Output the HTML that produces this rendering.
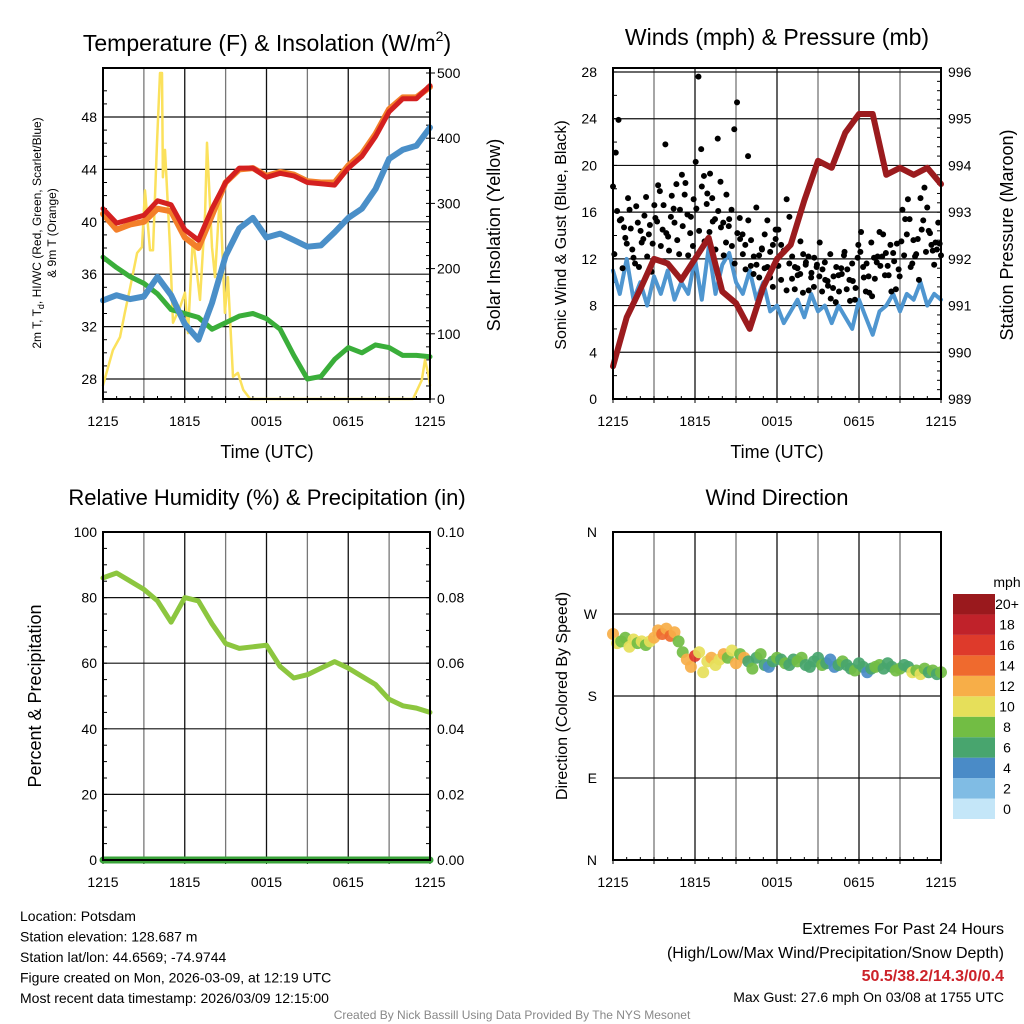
<!DOCTYPE html>
<html><head><meta charset="utf-8">
<style>
html,body{margin:0;padding:0;background:#fff;}
svg{display:block;font-family:"Liberation Sans",Arial,sans-serif;}
</style></head>
<body>
<svg id="c" width="1024" height="1024" viewBox="0 0 1024 1024" xmlns="http://www.w3.org/2000/svg">
<g id="g"></g>
</svg>
<script>
const hours=[0,1,2,3,4,5,6,7,8,9,10,11,12,13,14,15,16,17,18,19,20,21,22,23,24];
const xTickLabels=["1215","1815","0015","0615","1215"];
const tempRed=[41.0,39.9,40.2,40.5,41.6,41.3,39.4,38.6,41.0,43.0,44.1,44.1,43.4,43.7,43.5,43.0,42.9,42.8,44.1,45.0,46.5,48.4,49.4,49.4,50.4];
const tempOrange=[40.6,39.4,39.8,40.0,41.0,40.8,38.8,38.0,40.5,43.0,44.0,44.1,43.5,43.8,43.6,43.1,43.0,43.0,44.3,45.2,46.7,48.6,49.5,49.5,50.3];
const tempBlue=[34.0,34.4,34.1,34.3,35.8,34.4,32.2,31.0,33.8,37.4,39.5,40.3,38.8,39.1,38.6,38.1,38.2,39.2,40.3,41.0,42.5,44.8,45.5,45.8,47.2];
const tempGreen=[37.3,36.5,35.8,35.3,34.5,33.3,33.0,32.7,31.8,32.3,32.8,33.0,32.6,31.8,29.8,28.0,28.2,29.5,30.4,30.0,30.6,30.4,29.8,29.8,29.7];
const solarTimes=[0,0.73,1.25,1.6,2.0,2.5,2.86,3.08,3.45,3.67,3.96,4.18,4.33,4.4,4.55,4.92,5.14,5.65,6.02,6.24,6.6,7.12,7.49,7.63,8.0,8.22,8.59,8.95,9.17,9.54,9.9,10.3,10.8,22.75,23.4,23.63,23.85,24];
const solarVals=[21,75,95,132,172,224,233,320,228,228,393,500,500,340,382,233,117,141,163,101,248,152,285,393,233,187,316,132,187,34,40,14,0,0,29,60,40,21];
const tempTicks=[28,32,36,40,44,48];
const solarTicks=[0,100,200,300,400,500];
const pressure=[989.7,990.75,991.35,992.0,991.9,991.55,992.0,992.45,991.3,991.05,990.5,991.4,992.0,992.3,993.25,994.1,993.95,994.7,995.1,995.1,993.8,993.95,993.8,993.95,993.6];
const sonic=[11,9,12,8.5,10,8,10.5,9,11,8.5,10,9,12,8.5,13,9,11.5,12.5,10,9,11,8.5,10,7.5,8,6.5,7.5,8.5,7,9,7.5,8,6.5,8,7,6,8.5,7,5.5,7.5,8,9,7.5,9,8.5,10,8,9,8.5];
const gustsA=[18.2,21.1,23.9,15.4,14.7,13.3,16.2,12.8,11.6,15.1,14.4,13.7,17.3,14.1,10.9,16.6,15.2,17.8,14.5,21.8,13.9,15.6,16.3,18.4,12.4,19.2,17.5,15.8,14.2,13.1,20.3,27.6,21.4,19.1,16.7,14.3,17.2,15.4,22.3,18.6,15.1,13.4,14.8,16.2,23.1,25.4,15.5,14.1,13.2,20.8,11.4,10.7,16.4,12.3,12.9,11.2,15.3,10.4,9.6,13.7,14.5,13.2,12.6,17.1,15.6,12.2,11.3,10.6,13.5,12.4,11.7,9.3,10.8,12.1,11.5,13.4,11.1,10.2,9.7,8.6,10.5,11.3,9.2,10.7,12.6,11.1,8.4,10.1,9.5,13.2,14.3,10.4,11.6,9.1,8.8,10.3,12.2,11.4,14.1,12.5,10.6,9.2,11.8,13.3,10.5,16.2,15.4,17.1,11.3,13.6,12.4,10.2,14.5,18.1,16.4,14.2,12.7,13.4,15.1,12.3];
const gustsB=[12.4,16.1,15.3,11.2,13.8,17.2,14.6,12.1,16.5,11.3,13.4,15.7,12.2,14.9,13.3,15.5,18.3,13.1,16.6,14.2,12.7,17.4,15.1,13.6,16.2,14.8,18.5,12.3,15.6,17.1,16.3,14.4,18.2,13.5,17.6,19.3,15.2,12.8,16.1,14.7,12.3,17.5,15.4,13.1,11.6,14.2,13.7,12.4,11.1,15.3,13.6,12.2,11.5,10.4,12.8,14.1,11.3,12.6,13.2,14.5,11.4,10.2,12.7,9.3,11.6,10.3,9.4,11.2,10.7,9.1,11.5,12.2,10.4,9.6,11.3,10.5,9.2,11.7,10.1,12.4,9.5,8.3,10.6,11.2,12.3,9.4,10.2,11.6,8.5,12.1,12.6,11.3,9.2,10.5,13.4,12.1,11.7,14.3,12.2,10.6,11.4,13.2,12.5,9.4,11.1,13.5,12.3,14.1,15.4,11.6,12.2,13.7,17.2,15.3,12.6,14.4,13.2,11.5,12.8,13.3];
const windTicks=[0,4,8,12,16,20,24,28];
const pressTicks=[989,990,991,992,993,994,995,996];
const rh=[86,87.5,85,82.5,79,72.5,80,79,72,66,64.5,65,65.5,59,55.5,56.5,58.5,60.5,58.5,56,53.5,49,47,46.3,45];
const precip=[0,0,0,0,0,0,0,0,0,0,0,0,0,0,0,0,0,0,0,0,0,0,0,0,0];
const rhTicks=[0,20,40,60,80,100];
const precipTicks=["0.00","0.02","0.04","0.06","0.08","0.10"];
const dirVals=[248,238,240,244,234,242,238,240,236,240,244,252,248,254,246,250,240,228,220,212,224,228,206,218,222,214,220,226,222,230,216,226,222,218,210,222,226,214,212,218,222,220,216,214,220,218,222,214,212,218,222,214,216,220,212,214,218,214,210,208,216,212,206,210,212,214,210,216,212,208,210,214,212,206,208,204,210,206,208,204,206];
const dirSpeeds=[12,10,9,8,10,11,9,10,9,11,12,13,15,12,14,12,8,9,12,13,16,10,11,10,12,11,10,12,9,11,12,8,13,7,9,6,8,7,5,7,8,7,8,6,7,8,9,7,6,6,7,8,7,5,4,7,8,6,7,8,7,6,4,7,8,8,7,6,7,8,9,7,6,10,9,11,8,7,9,7,8];
const dirTicks=["N","E","S","W","N"];
const cbLabels=["0","2","4","6","8","10","12","14","16","18","20+"];
const cbColors=["#c4e6f8","#80bce4","#4a8bc7","#48a56e","#72bd44","#e6df5a","#f7ae48","#ef6a2e","#de3a2b","#c0222a","#9a191d"];

const NS="http://www.w3.org/2000/svg";
const G=document.getElementById('g');
function mk(tag,attrs,parent){const e=document.createElementNS(NS,tag);for(const k in attrs)e.setAttribute(k,attrs[k]);(parent||G).appendChild(e);return e;}
function txt(s,x,y,size,anchor,extra){const e=mk('text',Object.assign({x:x,y:y,'font-size':size,'text-anchor':anchor||'middle',fill:'#000'},extra||{}));e.textContent=s;return e;}
function lin(d0,d1,r0,r1){return v=>r0+(v-d0)/(d1-d0)*(r1-r0);}

function frame(x0,x1,y0,y1,name){
  const g=mk('g',{});
  
  
  const sx=lin(0,24,x0,x1);
  for(let h=0;h<=24;h+=3){
    const l=mk('line',{x1:sx(h),x2:sx(h),y1:y0,y2:y1,stroke:h%6==0?'#111':'#777','stroke-width':1.3},g);
    
    
    mk('line',{x1:sx(h),x2:sx(h),y1:y1,y2:y1+4,stroke:'#000'},g);
  }
  for(let h=1;h<24;h++){mk('line',{x1:sx(h),x2:sx(h),y1:y1,y2:y1-3,stroke:'#000'},g);}
  xTickLabels.forEach((s,i)=>{const t=txt(s,sx(i*6),y1+27,14);
    
    });
  return sx;
}
function border(x0,x1,y0,y1){const r=mk('rect',{x:x0,y:y0,width:x1-x0,height:y1-y0,fill:'none',stroke:'#000','stroke-width':2});
  
  }
function hgrid(y,x0,x1){const l=mk('line',{x1:x0,x2:x1,y1:y,y2:y,stroke:'#111','stroke-width':1.2});
  
  }
function path(xs,ys,color,w,name){let d='';for(let i=0;i<xs.length;i++)d+=(i?'L':'M')+xs[i].toFixed(1)+','+ys[i].toFixed(1);
  const p=mk('path',{d:d,fill:'none',stroke:color,'stroke-width':w,'stroke-linejoin':'round','stroke-linecap':'round'});
  
  
  return p;}

/* ---------- Panel 1 ---------- */
(function(){
  const x0=103,x1=430,y0=68,y1=399;
  const sx=frame(x0,x1,y0,y1,'temperature-panel');
  const ty=lin(28,48,379,117), sy=lin(0,500,399,73);
  tempTicks.forEach(v=>{hgrid(ty(v),x0,x1);const t=txt(String(v),97,ty(v)+5,14,'end');
    
    });
  for(let v=27;v<=50;v++)mk('line',{x1:x0,x2:x0+(v%4==0?0:4),y1:ty(v),y2:ty(v),stroke:'#000'});
  solarTicks.forEach(v=>{const t=txt(String(v),437,sy(v)+5,14,'start');
    
    
    mk('line',{x1:x1,x2:x1+5,y1:sy(v),y2:sy(v),stroke:'#000'});});
  for(let v=0;v<=500;v+=20)mk('line',{x1:x1,x2:x1-4,y1:sy(v),y2:sy(v),stroke:'#000'});
  path(solarTimes.map(sx),solarVals.map(sy),'#fbe15c',2.5,'solar-insolation-line');
  path(hours.map(sx),tempGreen.map(ty),'#3aae3a',5,'dewpoint-line');
  path(hours.map(sx),tempBlue.map(ty),'#4a8fc8',6,'heat-index-windchill-line');
  path(hours.map(sx),tempOrange.map(ty),'#f37f2a',6,'temp-9m-line');
  path(hours.map(sx),tempRed.map(ty),'#d42020',5,'temp-2m-line');
  border(x0,x1,y0,y1);
  let t=mk('text',{x:267,y:51,'font-size':23,'text-anchor':'middle'});
  t.innerHTML='Temperature (F) &amp; Insolation (W/m<tspan font-size="14" dy="-10">2</tspan><tspan dy="10">)</tspan>';
  
  
  t=txt('Time (UTC)',267,458,18);
  t=mk('text',{x:0,y:0,'font-size':12,'text-anchor':'middle',transform:'translate(41,233) rotate(-90)'});
  t.innerHTML='2m T, T<tspan font-size="9" dy="3">d</tspan><tspan dy="-3">, HI/WC (Red, Green, Scarlet/Blue)</tspan>';
  
  t=txt('& 9m T (Orange)',0,0,12,'middle',{transform:'translate(56,233) rotate(-90)'});
  
  t=txt('Solar Insolation (Yellow)',0,0,18,'middle',{transform:'translate(500,235) rotate(-90)'});
  
})();

/* ---------- Panel 2 ---------- */
(function(){
  const x0=613,x1=941,y0=68,y1=399;
  const sx=frame(x0,x1,y0,y1,'wind-pressure-panel');
  const wy=lin(0,28,399,72), py=lin(989,996,399,72);
  windTicks.forEach(v=>{hgrid(wy(v),x0,x1);const t=txt(String(v),597,wy(v)+5,14,'end');
    });
  for(let v=0;v<=28;v+=2)mk('line',{x1:x0,x2:x0+4,y1:wy(v),y2:wy(v),stroke:'#000'});
  pressTicks.forEach(v=>{const t=txt(String(v),948,py(v)+5,14,'start');
    });
  for(let v=989;v<=996;v+=0.2)mk('line',{x1:x1,x2:x1-4,y1:py(v),y2:py(v),stroke:'#000'});
  path(sonic.map((v,i)=>sx(i*0.5)),sonic.map(wy),'#4f96d0',4,'sonic-wind-line');
  const n=gustsA.length;
  gustsA.forEach((v,i)=>{const c=mk('circle',{cx:sx(i*24/(n-1)),cy:wy(v),r:3,fill:'#000'});
    });
  gustsB.forEach((v,i)=>{const c=mk('circle',{cx:sx((i+0.5)*24/n),cy:wy(v),r:3,fill:'#000'});
    });
  path(hours.map(sx),pressure.map(py),'#9b1b1e',6,'pressure-line');
  border(x0,x1,y0,y1);
  let t=txt('Winds (mph) & Pressure (mb)',777,45,23);
  t=txt('Time (UTC)',777,458,18);
  t=txt('Sonic Wind & Gust (Blue, Black)',0,0,16,'middle',{transform:'translate(566,235) rotate(-90)'});
  
  t=txt('Station Pressure (Maroon)',0,0,18,'middle',{transform:'translate(1013,235) rotate(-90)'});
  
})();

/* ---------- Panel 3 ---------- */
(function(){
  const x0=103,x1=430,y0=532,y1=860;
  const sx=frame(x0,x1,y0,y1,'humidity-panel');
  const ry=lin(0,100,860,532), py=lin(0,0.1,860,532);
  rhTicks.forEach(v=>{hgrid(ry(v),x0,x1);const t=txt(String(v),97,ry(v)+5,14,'end');
    });
  for(let v=0;v<=100;v+=5)mk('line',{x1:x0,x2:x0+4,y1:ry(v),y2:ry(v),stroke:'#000'});
  precipTicks.forEach((s,i)=>{const t=txt(s,437,py(i*0.02)+5,14,'start');
    });
  for(let v=0;v<=0.1;v+=0.005)mk('line',{x1:x1,x2:x1-4,y1:py(v),y2:py(v),stroke:'#000'});
  path(hours.map(sx),rh.map(ry),'#8cc63f',5,'humidity-line');
  path(hours.map(sx),precip.map(py),'#3aa33a',7,'precipitation-line');
  border(x0,x1,y0,y1);
  let t=txt('Relative Humidity (%) & Precipitation (in)',267,505,22);
  t=txt('Percent & Precipitation',0,0,18,'middle',{transform:'translate(41,696) rotate(-90)'});
  
})();

/* ---------- Panel 4 ---------- */
(function(){
  const x0=613,x1=941,y0=532,y1=860;
  const sx=frame(x0,x1,y0,y1,'wind-direction-panel');
  const dy=lin(0,360,860,532);
  dirTicks.forEach((s,i)=>{hgrid(dy(i*90),x0,x1);const t=txt(s,597,dy(i*90)+5,14,'end');
    });
  const n=dirVals.length;
  dirVals.forEach((v,i)=>{const b=Math.min(10,Math.floor(dirSpeeds[i]/2));
    const c=mk('circle',{cx:sx(i*24/(n-1)),cy:dy(v),r:6,fill:cbColors[b],'fill-opacity':0.92});
    });
  border(x0,x1,y0,y1);
  let t=txt('Wind Direction',777,505,22);
  t=txt('Direction (Colored By Speed)',0,0,16,'middle',{transform:'translate(567,696) rotate(-90)'});
  
  const cb=mk('g',{});
  const h=225/11;
  cbColors.forEach((col,i)=>{const yy=594+(10-i)*h;
    const r=mk('rect',{x:953,y:yy,width:42,height:h,fill:col},cb);
    
    const l=txt(cbLabels[i],1007,yy+h/2+5,14);});
  t=txt('mph',1007,587,14);
})();

/* ---------- Footer ---------- */
const footL=["Location: Potsdam","Station elevation: 128.687 m","Station lat/lon: 44.6569; -74.9744","Figure created on Mon, 2026-03-09, at 12:19 UTC","Most recent data timestamp: 2026/03/09 12:15:00"];
footL.forEach((s,i)=>{const t=txt(s,20,921+i*20.5,14,'start');});
let ft=txt('Extremes For Past 24 Hours',1004,934,16,'end');
ft=txt('(High/Low/Max Wind/Precipitation/Snow Depth)',1004,958,16,'end');
ft=txt('50.5/38.2/14.3/0/0.4',1004,981,16,'end',{fill:'#cc2229','font-weight':'bold'});
ft=txt('Max Gust: 27.6 mph On 03/08 at 1755 UTC',1004,1002,14,'end');
ft=txt('Created By Nick Bassill Using Data Provided By The NYS Mesonet',512,1019,12,'middle',{fill:'#888'});
</script>
</body></html>
